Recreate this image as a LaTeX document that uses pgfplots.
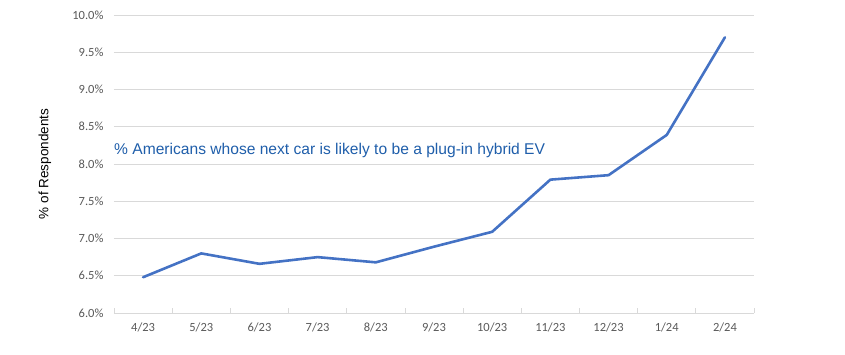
\documentclass[border=0pt]{standalone}
\usepackage{fontspec}
\setmainfont{Liberation Sans}
\newfontfamily\calibri{Carlito}
\usepackage{pgfplots}
\pgfplotsset{compat=1.18}
\definecolor{linec}{RGB}{68,114,196}
\definecolor{txtc}{RGB}{31,94,170}
\definecolor{gridc}{RGB}{217,217,217}
\definecolor{tickc}{RGB}{89,89,89}
\begin{document}
\begin{tikzpicture}[x=1pt,y=1pt]
\begin{axis}[
  scale only axis,
  width=640pt, height=298pt,
  xmin=-0.5, xmax=10.5,
  ymin=6.0, ymax=10.0,
  xtick={0,...,10},
  xticklabels={4/23,5/23,6/23,7/23,8/23,9/23,10/23,11/23,12/23,1/24,2/24},
  extra x ticks={-0.5,0.5,1.5,2.5,3.5,4.5,5.5,6.5,7.5,8.5,9.5,10.5},
  extra x tick labels={},
  extra x tick style={major tick length=5pt, tick style={draw=gridc, line width=0.8pt}, tick pos=bottom, grid=none},
  ytick={6.0,6.5,...,10.0},
  yticklabel={\pgfmathprintnumber[fixed,fixed zerofill,precision=1]{\tick}\%},
  /pgf/number format/assume math mode=true,
  ymajorgrids,
  grid style={draw=gridc, line width=0.8pt},
  axis line style={draw=none},
  major tick length=0pt,
  tick label style={font=\calibri\fontsize{12.5}{13}\selectfont, text=tickc},
  xticklabel style={yshift=-6pt},
  yticklabel style={xshift=-7pt},
  clip=false,
]
\draw[gridc, line width=0.8pt] (axis cs:-0.5,6.0) -- (axis cs:10.5,6.0);
\addplot[linec, line width=2.6pt, line join=round, line cap=round, mark=none] coordinates {
(0,6.48) (1,6.80) (2,6.66) (3,6.75) (4,6.68) (5,6.89) (6,7.09) (7,7.79) (8,7.85) (9,8.39) (10,9.70)
};
\node[anchor=west, inner sep=0pt, text=txtc, font=\fontsize{15.6}{18}\selectfont] at (axis cs:-0.5,8.18) {\% Americans whose next car is likely to be a plug-in hybrid EV};
\node[rotate=90, anchor=center, inner sep=0pt, font=\fontsize{13.5}{14}\selectfont] at ([xshift=-69pt]axis description cs:0,0.5) {\% of Respondents};
\end{axis}
\path ([shift={(-114pt,-42pt)}]current axis.south west) rectangle ([shift={(91pt,15pt)}]current axis.north east);
\end{tikzpicture}
\end{document}
